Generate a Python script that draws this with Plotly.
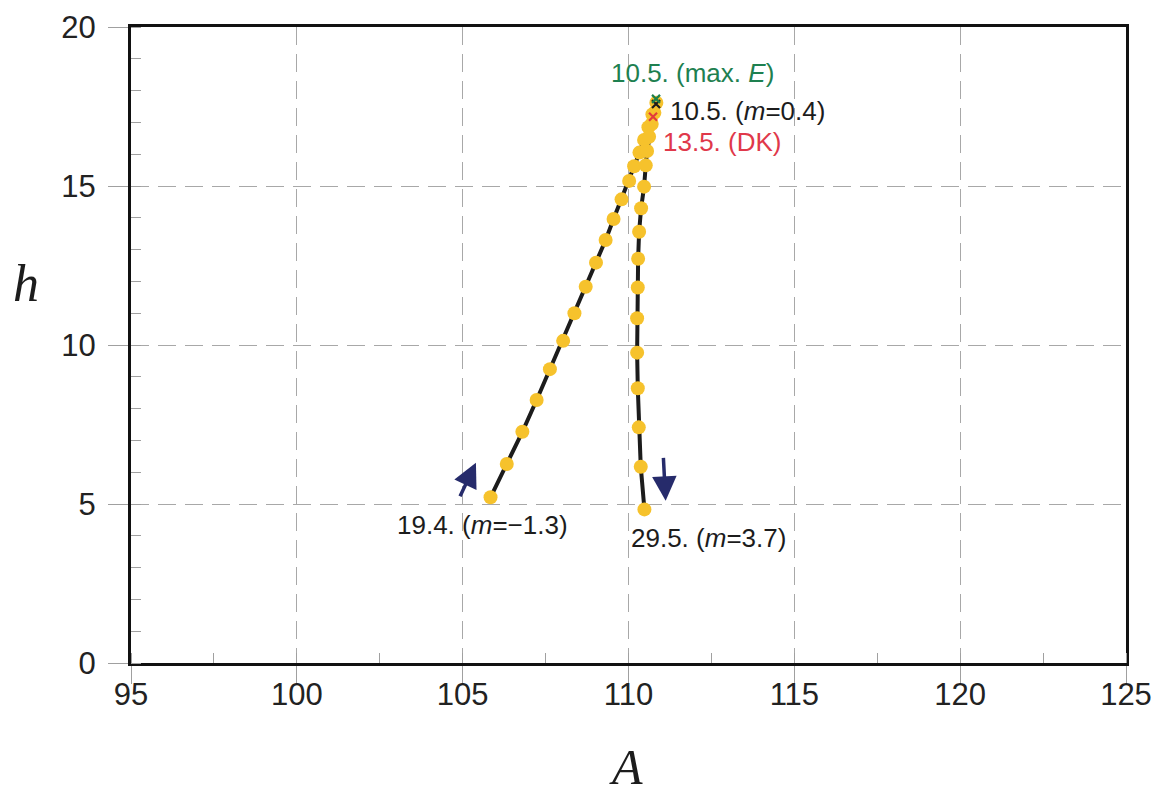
import plotly.graph_objects as go

# ---- data ----
A_path = [105.84, 106.33, 106.80, 107.23, 107.63, 108.03, 108.37, 108.71, 109.02,
          109.31, 109.55, 109.79, 110.02, 110.17, 110.33, 110.47, 110.60, 110.72,
          110.84,
          110.78, 110.70, 110.62, 110.56, 110.52, 110.47, 110.38, 110.32, 110.29,
          110.28, 110.26, 110.26, 110.28, 110.31, 110.37, 110.48]
h_path = [5.21, 6.26, 7.27, 8.27, 9.24, 10.13, 11.00, 11.83, 12.59,
          13.30, 13.96, 14.58, 15.16, 15.62, 16.05, 16.45, 16.85, 17.25,
          17.62,
          17.30, 16.95, 16.55, 16.10, 15.65, 14.98, 14.30, 13.56, 12.71,
          11.81, 10.84, 9.76, 8.64, 7.41, 6.17, 4.83]

maxE_A, maxE_h = [110.83], [17.74]
m04_A, m04_h = [110.83], [17.58]
dk_A, dk_h = [110.74], [17.18]

x_ticks = [95, 100, 105, 110, 115, 120, 125]
y_ticks = [0, 5, 10, 15, 20]

label_maxE = "10.5. (max. <i>E</i>)"
label_m04 = "10.5. (<i>m</i>=0.4)"
label_dk = "13.5. (DK)"
label_start = "19.4. (<i>m</i>=\u22121.3)"
label_end = "29.5. (<i>m</i>=3.7)"

FONT = "Liberation Sans, Arial, sans-serif"
SERIF = "Liberation Serif, Times New Roman, serif"
ANN_SIZE = 26
TICK_SIZE = 31

fig = go.Figure()
fig.add_trace(go.Scatter(
    x=A_path, y=h_path, mode="lines+markers",
    line=dict(color="#1c1c1c", width=4),
    marker=dict(color="#F6C22C", size=14, line=dict(width=0)),
    showlegend=False, hoverinfo="skip"))
fig.add_trace(go.Scatter(x=dk_A, y=dk_h, mode="markers",
    marker=dict(symbol="x-thin", size=8, line=dict(color="#E23B3B", width=2.2)),
    showlegend=False))
fig.add_trace(go.Scatter(x=m04_A, y=m04_h, mode="markers",
    marker=dict(symbol="x-thin", size=8, line=dict(color="#1c1c1c", width=2.2)),
    showlegend=False))
fig.add_trace(go.Scatter(x=maxE_A, y=maxE_h, mode="markers",
    marker=dict(symbol="x-thin", size=8, line=dict(color="#1E7F4A", width=2.2)),
    showlegend=False))

L, R, T, B = 131, 30, 27, 133
W, H = 1156, 796
pw, ph = W - L - R, H - T - B

ann = []
ann.append(dict(x=111.94, y=18.55, text=label_maxE, showarrow=False, xanchor="center",
                yanchor="middle", font=dict(family=FONT, size=ANN_SIZE, color="#1E8050")))
ann.append(dict(x=111.2, y=17.36, text=label_m04, showarrow=False, xanchor="left",
                yanchor="middle", font=dict(family=FONT, size=ANN_SIZE, color="#1c1c1c")))
ann.append(dict(x=110.97, y=16.38, text=label_dk, showarrow=False, xanchor="left",
                yanchor="middle", font=dict(family=FONT, size=ANN_SIZE, color="#E0384A")))
ann.append(dict(x=102.95, y=4.34, text=label_start, showarrow=False, xanchor="left",
                yanchor="middle", font=dict(family=FONT, size=ANN_SIZE, color="#1c1c1c")))
ann.append(dict(x=110.0, y=3.93, text=label_end, showarrow=False, xanchor="left",
                yanchor="middle", font=dict(family=FONT, size=ANN_SIZE, color="#1c1c1c")))
# direction arrows
ann.append(dict(x=105.4, y=6.3, ax=104.9, ay=5.2, axref="x", ayref="y",
                xref="x", yref="y", text="", showarrow=True, arrowhead=2,
                arrowsize=1.4, arrowwidth=3.5, arrowcolor="#262B6B"))
ann.append(dict(x=111.12, y=5.1, ax=111.05, ay=6.5, axref="x", ayref="y",
                xref="x", yref="y", text="", showarrow=True, arrowhead=2,
                arrowsize=1.4, arrowwidth=3.5, arrowcolor="#262B6B"))
# axis titles
ann.append(dict(x=(26 - L) / pw, y=(H - B - 283) / ph, xref="paper", yref="paper",
                text="<i>h</i>", showarrow=False, xanchor="center", yanchor="middle",
                font=dict(family=SERIF, size=52, color="#1c1c1c")))
ann.append(dict(x=(626 - L) / pw, y=(H - B - 797) / ph, xref="paper", yref="paper",
                text="<i>A</i>", showarrow=False, xanchor="center", yanchor="bottom",
                font=dict(family=SERIF, size=50, color="#1c1c1c")))

fig.update_layout(
    width=W, height=H,
    margin=dict(l=L, r=R, t=T, b=B, autoexpand=False),
    plot_bgcolor="white", paper_bgcolor="white",
    annotations=ann,
    font=dict(family=FONT, size=TICK_SIZE, color="#222222"),
)
fig.update_xaxes(
    range=[95, 125], tickvals=x_ticks, ticktext=[str(v) for v in x_ticks],
    tickfont=dict(family=FONT, size=TICK_SIZE, color="#222222"),
    automargin=False,
    showgrid=True, gridcolor="#A8A8A8", gridwidth=1, griddash="18px,9px",
    showline=True, linecolor="#111111", linewidth=3, mirror=True,
    ticks="outside", ticklen=18, tickcolor="#A0A0A0", tickwidth=1,
    ticklabelstandoff=-16,
    minor=dict(dtick=2.5, tick0=95, ticks="inside", ticklen=10, tickcolor="#A0A0A0",
               tickwidth=1, showgrid=False),
    zeroline=False,
)
fig.update_yaxes(
    range=[0, 20], tickvals=y_ticks, ticktext=[str(v) for v in y_ticks],
    tickfont=dict(family=FONT, size=TICK_SIZE, color="#222222"),
    automargin=False,
    showgrid=True, gridcolor="#A8A8A8", gridwidth=1, griddash="18px,9px",
    showline=True, linecolor="#111111", linewidth=3, mirror=True,
    ticks="outside", ticklen=20, tickcolor="#A0A0A0", tickwidth=1,
    ticklabelstandoff=6,
    minor=dict(dtick=1, tick0=0, ticks="inside", ticklen=10, tickcolor="#A0A0A0",
               tickwidth=1, showgrid=False),
    zeroline=False,
)

fig.write_html("out.html")
